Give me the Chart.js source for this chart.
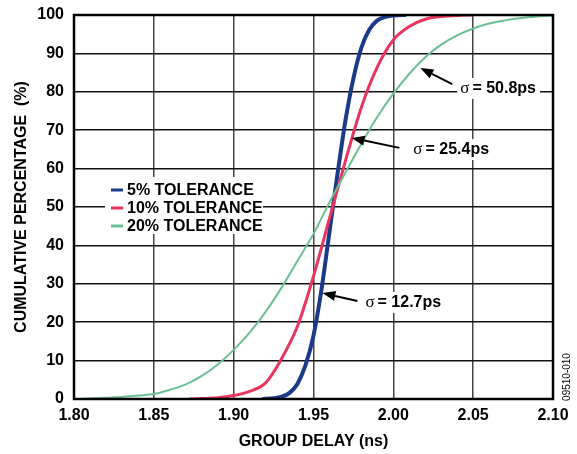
<!DOCTYPE html>
<html>
<head>
<meta charset="utf-8">
<script src="https://cdn.jsdelivr.net/npm/chart.js@4/dist/chart.umd.min.js"></script>
<style>
  html, body { margin: 0; padding: 0; background: #fff; }
  #wrap { width: 577px; height: 454px; }
</style>
</head>
<body>
<div id="wrap"><canvas id="chart" width="577" height="454"></canvas></div>
<script>
// group delay (ns) vs cumulative percentage
var delay5 = [1.918, 1.925, 1.930, 1.935, 1.940, 1.945, 1.950, 1.955, 1.960, 1.965, 1.970, 1.975, 1.980, 1.985, 1.990, 1.995, 2.000, 2.008];
var pct5 = [0, 0.2, 0.6, 1.6, 4.0, 8.8, 16.5, 28.5, 43.5, 58.5, 72.5, 83.5, 91.5, 96.2, 98.6, 99.5, 99.9, 100];

var delay10 = [1.872, 1.880, 1.890, 1.900, 1.910, 1.920, 1.930, 1.940, 1.950, 1.960, 1.970, 1.980, 1.990, 2.000, 2.010, 2.020, 2.030, 2.040, 2.050];
var pct10 = [0, 0.1, 0.3, 0.9, 2.0, 4.2, 10.5, 19.0, 32.0, 47.0, 62.0, 76.0, 86.5, 93.5, 97.0, 98.9, 99.6, 99.9, 100];

var delay20 = [1.80, 1.81, 1.82, 1.83, 1.84, 1.85, 1.86, 1.87, 1.88, 1.89, 1.90, 1.91, 1.92, 1.93, 1.94, 1.95, 1.96, 1.97, 1.98, 1.99, 2.00, 2.01, 2.02, 2.03, 2.04, 2.05, 2.06, 2.07, 2.08, 2.09, 2.10];
var pct20 = [0, 0.1, 0.3, 0.5, 0.9, 1.3, 2.4, 3.8, 6.0, 9.0, 12.8, 17.3, 22.7, 29.0, 36.0, 43.0, 51.2, 59.0, 66.5, 73.5, 79.5, 84.7, 89.0, 92.3, 94.7, 96.5, 97.8, 98.6, 99.2, 99.6, 99.9];

var seriesNames = ["5% TOLERANCE", "10% TOLERANCE", "20% TOLERANCE"];
var sigmaLabels = ["= 12.7ps", "= 25.4ps", "= 50.8ps"];

var xTicks = [1.80, 1.85, 1.90, 1.95, 2.00, 2.05, 2.10];
var yTicks = [0, 10, 20, 30, 40, 50, 60, 70, 80, 90, 100];

var colors = ["#1b3a8a", "#e8365d", "#6bbf95"];
var widths = [4, 3, 2];

function toPoints(xs, ys) {
    return xs.map((x, i) => ({ x: x, y: ys[i] }));
}

var FONT = "'Liberation Sans', Arial, sans-serif";

// arrow + label for each sigma, in data units
var notes = [
    { tip: [1.9556, 27.6], tail: [1.9775, 25.5], label: [1.9825, 25.3] },
    { tip: [1.9738, 68.0], tail: [2.0038, 65.4], label: [2.0125, 65.1] },
    { tip: [2.0169, 86.2], tail: [2.0369, 82.0], label: [2.0419, 81.0] },
];

var extras = {
    id: "extras",
    afterDatasetsDraw(chart) {
        const ctx = chart.ctx;
        const a = chart.chartArea;
        const xs = chart.scales.x;
        const ys = chart.scales.y;
        ctx.save();

        // legend box
        const lx = a.left + 31, ly = a.top + 162;
        ctx.fillStyle = "#fff";
        ctx.fillRect(lx, ly, 158, 57);
        ctx.font = "bold 16px " + FONT;
        ctx.textBaseline = "middle";
        seriesNames.forEach((name, i) => {
            const yy = ly + 13 + i * 18;
            ctx.strokeStyle = colors[i];
            ctx.lineWidth = 3;
            ctx.beginPath();
            ctx.moveTo(lx + 6, yy);
            ctx.lineTo(lx + 18, yy);
            ctx.stroke();
            ctx.fillStyle = "#000";
            ctx.textAlign = "left";
            ctx.fillText(name, lx + 22, yy + 1);
        });

        // sigma notes
        notes.forEach((n, i) => {
            const tx = xs.getPixelForValue(n.tip[0]), ty = ys.getPixelForValue(n.tip[1]);
            const bx = xs.getPixelForValue(n.tail[0]), by = ys.getPixelForValue(n.tail[1]);
            const ang = Math.atan2(ty - by, tx - bx);
            const hl = 13, hw = 5;
            const hx = tx - hl * Math.cos(ang), hy = ty - hl * Math.sin(ang);
            ctx.strokeStyle = "#000";
            ctx.lineWidth = 2;
            ctx.beginPath();
            ctx.moveTo(bx, by);
            ctx.lineTo(hx, hy);
            ctx.stroke();
            ctx.fillStyle = "#000";
            ctx.beginPath();
            ctx.moveTo(tx, ty);
            ctx.lineTo(hx + hw * Math.sin(ang), hy - hw * Math.cos(ang));
            ctx.lineTo(hx - hw * Math.sin(ang), hy + hw * Math.cos(ang));
            ctx.closePath();
            ctx.fill();

            const px = xs.getPixelForValue(n.label[0]), py = ys.getPixelForValue(n.label[1]);
            ctx.font = "17px 'Liberation Serif', 'Times New Roman', serif";
            const sw = ctx.measureText("\u03c3").width;
            ctx.font = "bold 16px " + FONT;
            const tw = ctx.measureText(sigmaLabels[i]).width;
            ctx.fillStyle = "#fff";
            ctx.fillRect(px - 3, py - 10, sw + tw + 10, 21);
            ctx.fillStyle = "#000";
            ctx.textAlign = "left";
            ctx.textBaseline = "middle";
            ctx.font = "17px 'Liberation Serif', 'Times New Roman', serif";
            ctx.fillText("\u03c3", px, py + 1);
            ctx.font = "bold 16px " + FONT;
            ctx.fillText(sigmaLabels[i], px + sw + 3, py + 1);
        });

        // frame
        ctx.strokeStyle = "#000";
        ctx.lineWidth = 2.5;
        ctx.strokeRect(a.left, a.top, a.right - a.left, a.bottom - a.top);

        // figure code
        ctx.translate(567, 377);
        ctx.rotate(-Math.PI / 2);
        ctx.font = "10px " + FONT;
        ctx.textAlign = "center";
        ctx.textBaseline = "middle";
        ctx.fillStyle = "#000";
        ctx.fillText("09510-010", 0, 0);
        ctx.restore();
    },
};

var ctx = document.getElementById("chart");

new Chart(ctx, {
    type: "line",
    data: {
        datasets: [
            { label: seriesNames[2], data: toPoints(delay20, pct20) },
            { label: seriesNames[1], data: toPoints(delay10, pct10) },
            { label: seriesNames[0], data: toPoints(delay5, pct5) },
        ].map((d, i) => {
            const k = 2 - i;
            return Object.assign(d, {
                borderColor: colors[k],
                backgroundColor: colors[k],
                borderWidth: widths[k],
                pointRadius: 0,
                cubicInterpolationMode: "monotone",
                fill: false,
            });
        }),
    },
    options: {
        responsive: false,
        animation: false,
        layout: { padding: { top: 15, right: 24, left: 0, bottom: 0 } },
        plugins: {
            legend: { display: false },
            tooltip: { enabled: false },
        },
        scales: {
            x: {
                type: "linear",
                min: 1.8,
                max: 2.1,
                afterBuildTicks: (s) => { s.ticks = xTicks.map((v) => ({ value: v })); },
                afterFit: (s) => {
                    s.height = 55;
                    s.paddingLeft = 0;
                    s.paddingRight = 0;
                },
                ticks: {
                    callback: (v) => v.toFixed(2),
                    color: "#000",
                    font: { family: FONT, size: 16, weight: "bold" },
                    padding: 7,
                    maxRotation: 0,
                },
                grid: { color: "#444", lineWidth: 1.5, drawTicks: false },
                border: { display: false },
                title: {
                    display: true,
                    text: "GROUP DELAY (ns)",
                    color: "#000",
                    font: { family: FONT, size: 16, weight: "bold" },
                    padding: { top: 0, bottom: 3 },
                },
            },
            y: {
                min: 0,
                max: 100,
                afterBuildTicks: (s) => { s.ticks = yTicks.map((v) => ({ value: v })); },
                afterFit: (s) => {
                    s.width = 74;
                    s.paddingTop = 0;
                    s.paddingBottom = 0;
                },
                ticks: {
                    color: "#000",
                    font: { family: FONT, size: 16, weight: "bold" },
                    padding: 10,
                },
                grid: { color: "#111", lineWidth: 1.5, drawTicks: false },
                border: { display: false },
                title: {
                    display: true,
                    text: "CUMULATIVE PERCENTAGE  (%)",
                    color: "#000",
                    font: { family: FONT, size: 16, weight: "bold" },
                    padding: { top: 12, bottom: 0 },
                },
            },
        },
    },
    plugins: [extras],
});
</script>
</body>
</html>
